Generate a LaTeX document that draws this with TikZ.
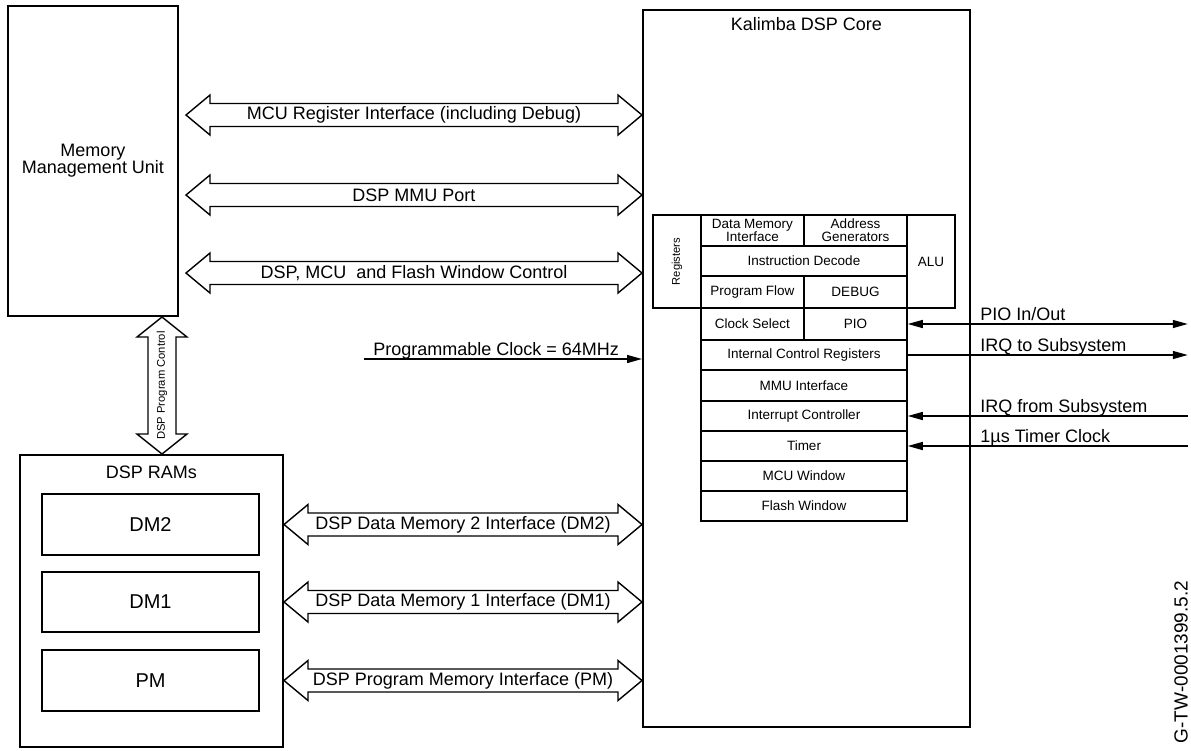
\documentclass[tikz,border=0pt]{standalone}
\usepackage{fontspec}
\setmainfont{Liberation Sans}
\usetikzlibrary{positioning,calc,arrows.meta}
\tikzset{>={Triangle[length=7.5pt,width=4pt]}}
\tikzset{
  unit/.style={draw,line width=1pt,inner sep=0pt},
  cell/.style={draw,line width=0.75pt,inner sep=0pt,align=center,font=\fontsize{6.75}{6.5}\selectfont},
  lbl/.style={font=\fontsize{9}{10}\selectfont},
  tiny/.style={font=\fontsize{5.6}{6}\selectfont},
  sig/.style={line width=0.7pt},
  bus/.style={draw,line width=0.7pt,fill=white,to path={
    -- ($(\tikztostart)+(24,-20)$) |- ($(\tikztotarget)+(-24,-11.5)$)
    -- ($(\tikztotarget)+(-24,-20)$) -- (\tikztotarget)
    -- ($(\tikztotarget)+(-24,20)$) |- ($(\tikztostart)+(24,11.5)$)
    -- ($(\tikztostart)+(24,20)$) -- cycle}},
}

\begin{document}
\begin{tikzpicture}[x=0.5pt,y=-0.5pt]
\useasboundingbox (0,0) rectangle (1191,751);
% MMU
\node[unit,minimum width=85pt,minimum height=155pt,align=center,font=\fontsize{9}{8.5}\selectfont] (mmu) at (93,161) {Memory\\Management Unit};
% DSP core
\node[unit,minimum width=163.5pt,minimum height=358.5pt] (core) at (806.5,368.5) {};
\node[lbl] (coretitle) at (806.5,24) {Kalimba DSP Core};
\node[cell,minimum width=24pt,minimum height=46.5pt] (regs) at (677,261.5) {};
\node[tiny,rotate=90] (regslbl) at (regs) {Registers};
\node[cell,minimum width=51.5pt,minimum height=15.5pt] (dmi) at (752.5,230.5) {Data Memory\\Interface};
\node[cell,minimum width=51.5pt,minimum height=15.5pt] (agen) at (855.5,230.5) {Address\\Generators};
\node[cell,minimum width=103pt,minimum height=15pt] (idec) at (804,261) {Instruction Decode};
\node[cell,minimum width=51.5pt,minimum height=16pt] (pflow) at (752.5,292) {Program Flow};
\node[cell,minimum width=51.5pt,minimum height=16pt] (debug) at (855.5,292) {DEBUG};
\node[cell,minimum width=24pt,minimum height=46.5pt] (alu) at (931,261.5) {ALU};
\node[cell,minimum width=51.5pt,minimum height=16pt] (clksel) at (752.5,324) {Clock Select};
\node[cell,minimum width=51.5pt,minimum height=16pt] (pio) at (855.5,324) {PIO};
\node[cell,minimum width=103pt,minimum height=15pt] (icr) at (804,355) {Internal Control Registers};
\node[cell,minimum width=103pt,minimum height=15.5pt] (mmuif) at (804,385.5) {MMU Interface};
\node[cell,minimum width=103pt,minimum height=15pt] (intc) at (804,416) {Interrupt Controller};
\node[cell,minimum width=103pt,minimum height=15pt] (timer) at (804,446) {Timer};
\node[cell,minimum width=103pt,minimum height=15pt] (mcuwin) at (804,476) {MCU Window};
\node[cell,minimum width=103pt,minimum height=15pt] (flashwin) at (804,506) {Flash Window};
% DSP RAMs
\node[unit,minimum width=131.5pt,minimum height=146pt] (rams) at (151.5,601) {};
\node[lbl] (ramstitle) at (151.5,472) {DSP RAMs};
\node[unit,line width=0.8pt,minimum width=108.5pt,minimum height=30.5pt,font=\fontsize{10}{12}\selectfont] (dm2) at (150.5,524.5) {DM2};
\node[unit,line width=0.8pt,minimum width=108.5pt,minimum height=30pt,font=\fontsize{10}{12}\selectfont] (dm1) at (150.5,602) {DM1};
\node[unit,line width=0.8pt,minimum width=108.5pt,minimum height=30.5pt,font=\fontsize{10}{12}\selectfont] (pm) at (150.5,680.5) {PM};
% buses between MMU and core
\coordinate (mcuL) at (186,115);
\coordinate (mcuR) at (mcuL -| core.west);
\draw[bus] (mcuL) to (mcuR);
\node[lbl] (mcubus) at ($(mcuL)!.5!(mcuR)$) {MCU Register Interface (including Debug)};
\coordinate (portL) at (186,195);
\coordinate (portR) at (portL -| core.west);
\draw[bus] (portL) to (portR);
\node[lbl] (portbus) at ($(portL)!.5!(portR)$) {DSP MMU Port};
\coordinate (winL) at (186,273);
\coordinate (winR) at (winL -| core.west);
\draw[bus] (winL) to (winR);
\node[lbl] (winbus) at ($(winL)!.5!(winR)$) {DSP, MCU~ and Flash Window Control};
% buses between RAMs and core
\coordinate (dm2L) at (dm2 -| rams.east);
\coordinate (dm2R) at (dm2 -| core.west);
\draw[bus] (dm2L) to (dm2R);
\node[lbl] (dm2bus) at ($(dm2L)!.5!(dm2R)$) {DSP Data Memory 2 Interface (DM2)};
\coordinate (dm1L) at (dm1 -| rams.east);
\coordinate (dm1R) at (dm1 -| core.west);
\draw[bus] (dm1L) to (dm1R);
\node[lbl] (dm1bus) at ($(dm1L)!.5!(dm1R)$) {DSP Data Memory 1 Interface (DM1)};
\coordinate (pmL) at (pm -| rams.east);
\coordinate (pmR) at (pm -| core.west);
\draw[bus] (pmL) to (pmR);
\node[lbl] (pmbus) at ($(pmL)!.5!(pmR)$) {DSP Program Memory Interface (PM)};
% program control
\coordinate (pcT) at (162,317);
\coordinate (pcB) at (pcT |- rams.north);
\draw[line width=0.7pt,fill=white] (pcT) -- ($(pcT)+(25,20)$) -- ($(pcT)+(14,20)$) -- ($(pcB)+(14,-20)$)
  -- ($(pcB)+(25,-20)$) -- (pcB) -- ($(pcB)+(-25,-20)$) -- ($(pcB)+(-14,-20)$)
  -- ($(pcT)+(-14,20)$) -- ($(pcT)+(-25,20)$) -- cycle;
\node[tiny,rotate=90] (pcbus) at ($(pcT)!.5!(pcB)$) {DSP Program Control};
% clock in
\coordinate (clkin) at (364,359);
\draw[sig,->] (clkin) -- (clkin -| core.west);
\node[lbl,anchor=base west,inner sep=0pt] (clklbl) at (373,355) {Programmable Clock = 64MHz};
% signals on the right
\coordinate (pioext) at ($(pio.east)+(280,0)$);
\coordinate (irqout) at ($(icr.east)+(280,0)$);
\coordinate (irqin) at ($(intc.east)+(280,0)$);
\coordinate (tmrclk) at ($(timer.east)+(280,0)$);
\draw[sig,<->] (pio.east) -- (pioext);
\draw[sig,->] (icr.east) -- (irqout);
\draw[sig,<-] (intc.east) -- (irqin);
\draw[sig,<-] (timer.east) -- (tmrclk);
\node[lbl,anchor=base west,inner sep=0pt] (piolbl) at (980,320) {PIO In/Out};
\node[lbl,anchor=base west,inner sep=0pt] (irqoutlbl) at (980,351) {IRQ to Subsystem};
\node[lbl,anchor=base west,inner sep=0pt] (irqinlbl) at (980,412) {IRQ from Subsystem};
\node[lbl,anchor=base west,inner sep=0pt] (tmrlbl) at (980,442) {1µs Timer Clock};
\node[rotate=90,font=\fontsize{9.5}{10}\selectfont] (docid) at (1181,662) {G-TW-0001399.5.2};
\end{tikzpicture}
\end{document}
